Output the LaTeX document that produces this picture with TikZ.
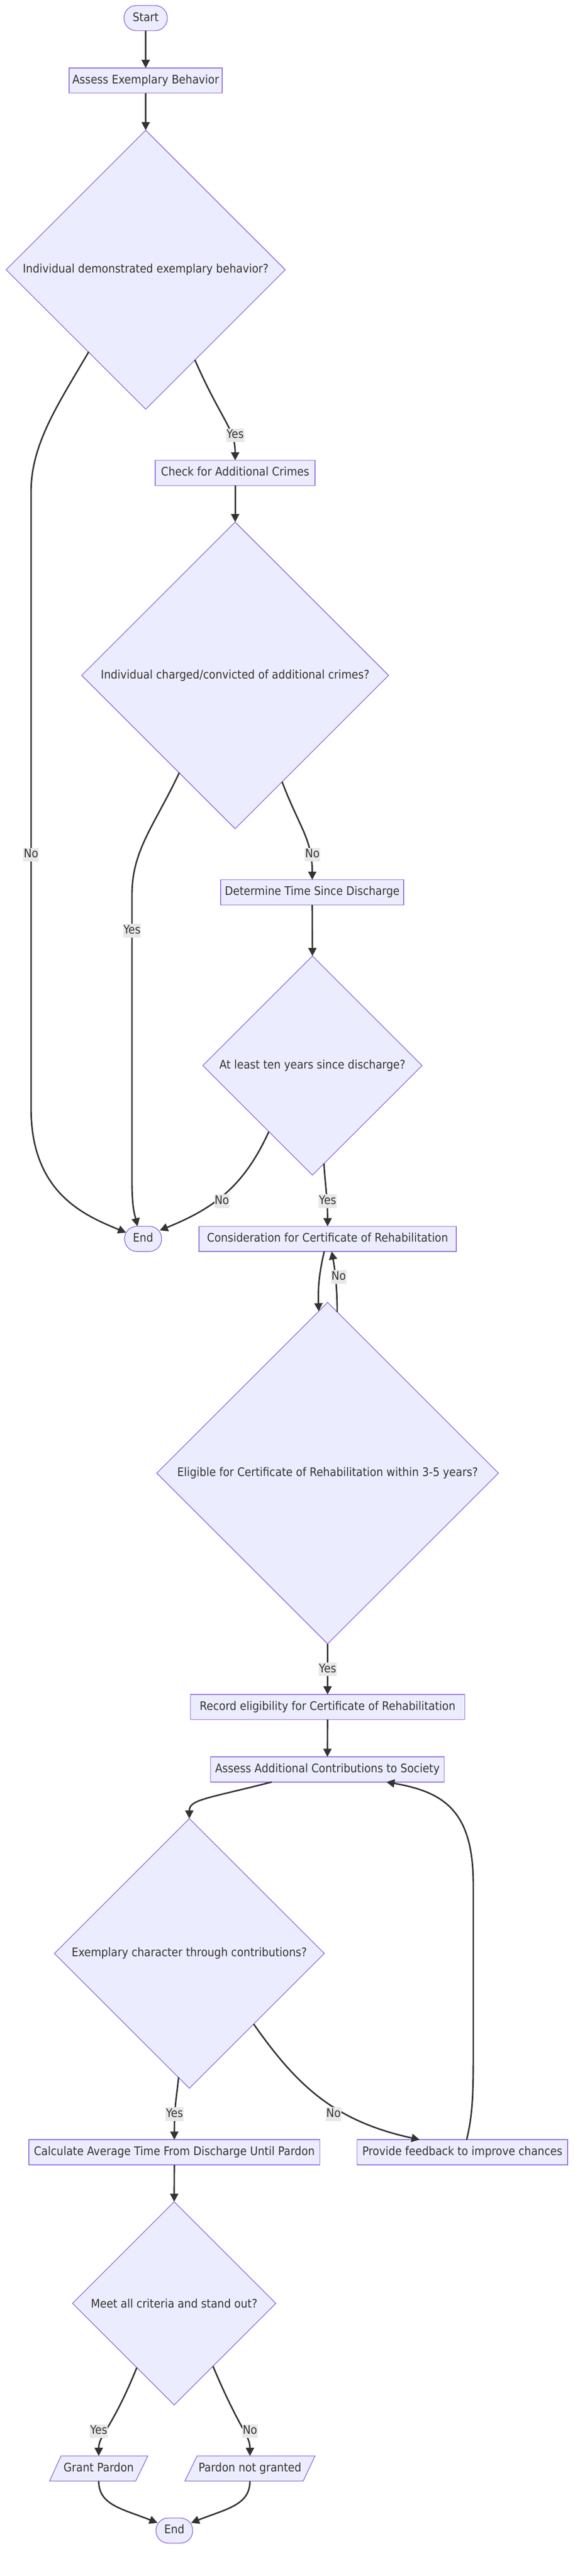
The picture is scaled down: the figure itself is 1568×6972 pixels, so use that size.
\documentclass[tikz,border=0pt]{standalone}
\usepackage{fontspec}
\setmainfont[FakeStretch=0.9]{DejaVu Sans}
\usetikzlibrary{shapes.geometric,arrows.meta}
\definecolor{nodefill}{HTML}{ECECFF}
\definecolor{nodeline}{HTML}{9370DB}
\definecolor{ink}{HTML}{333333}
\definecolor{lblbg}{HTML}{E8E8E8}
\begin{document}
\begin{tikzpicture}[x=0.5pt,y=-0.5pt,
  every node/.style={font=\fontsize{16pt}{19pt}\selectfont, text=ink},
  box/.style={draw=nodeline, fill=nodefill, line width=1pt, rectangle, minimum height=34pt, inner sep=0pt, outer sep=0pt, text height=11.7pt, text depth=3.3pt},
  stad/.style={box, rounded corners=16.5pt},
  dia/.style={draw=nodeline, fill=nodefill, line width=1pt, diamond, aspect=1, inner sep=0pt, outer sep=0pt},
  para/.style={rectangle, minimum height=34pt, inner sep=0pt, outer sep=0pt, text height=11.7pt, text depth=3.3pt},
  parashape/.style={draw=nodeline, fill=nodefill, line width=1pt},
  conn/.style={draw=ink, line width=2pt, -{Triangle[length=11pt,width=11pt]}},
  lbl/.style={fill=lblbg, inner xsep=0.5pt, inner ysep=0pt, minimum height=18.5pt, text height=11.7pt, text depth=3.3pt}
]
\useasboundingbox (0,0) rectangle (1568,6972);
\fill[white] (0,0) rectangle (1568,6972);

% nodes
\node[stad, minimum width=58.5pt] (start) at (394,49) {Start};
\node[box, minimum width=207pt] (assess) at (394,218) {Assess Exemplary Behavior};
\node[dia, minimum width=377.5pt, minimum height=377.5pt] (d1) at (394,730) {Individual demonstrated exemplary behavior?};
\node[box, minimum width=216pt] (check) at (636,1280) {Check for Additional Crimes};
\node[dia, minimum width=415pt, minimum height=415pt] (d2) at (636,1828) {Individual charged/convicted of additional crimes?};
\node[box, minimum width=247.5pt] (determine) at (844.5,2415) {Determine Time Since Discharge};
\node[dia, minimum width=296.5pt, minimum height=296.5pt] (d3) at (845,2884) {At least ten years since discharge?};
\node[stad, minimum width=50pt] (end1) at (387,3353) {End};
\node[box, minimum width=348pt] (consider) at (886,3353) {Consideration for Certificate of Rehabilitation};
\node[dia, minimum width=462pt, minimum height=462pt] (d4) at (886,3987) {Eligible for Certificate of Rehabilitation within 3-5 years?};
\node[box, minimum width=371pt] (record) at (886,4620) {Record eligibility for Certificate of Rehabilitation};
\node[box, minimum width=315.5pt] (assessadd) at (885.5,4789) {Assess Additional Contributions to Society};
\node[dia, minimum width=365pt, minimum height=365pt] (d5) at (512,5287) {Exemplary character through contributions?};
\node[box, minimum width=393.5pt] (calc) at (471.5,5825) {Calculate Average Time From Discharge Until Pardon};
\node[box, minimum width=284.5pt] (provide) at (1250.5,5825) {Provide feedback to improve chances};
\node[dia, minimum width=275pt, minimum height=275pt] (d6) at (471,6234) {Meet all criteria and stand out?};

\coordinate (grantc) at (267,6681);
\coordinate (notgrc) at (676,6681);
\draw[parashape] ([shift={(-133,34)}]grantc) -- ([shift={(100,34)}]grantc) -- ([shift={(133,-34)}]grantc) -- ([shift={(-102,-34)}]grantc) -- cycle;
\draw[parashape] ([shift={(-176,34)}]notgrc) -- ([shift={(144,34)}]notgrc) -- ([shift={(176,-34)}]notgrc) -- ([shift={(-143,-34)}]notgrc) -- cycle;
\node[para, minimum width=133pt] (grant) at (grantc) {Grant Pardon};
\node[para, minimum width=176pt] (notgr) at (notgrc) {Pardon not granted};
\node[stad, minimum width=49.5pt] (end2) at (471.5,6849) {End};

% connectors
\draw[conn] (start.south) -- (assess.north);
\draw[conn] (assess.south) -- (d1.north);
\draw[conn] ([shift={(-154,222)}]d1.center) .. controls (160,1090) and (84,1200) .. (84,1330) -- (84,3000) .. controls (84,3230) and (230,3290) .. ([shift={(-46,-17)}]end1.center);
\draw[conn] ([shift={(133,244)}]d1.center) .. controls (600,1140) and (636,1160) .. (check.north);
\draw[conn] (check.south) -- (d2.north);
\draw[conn] ([shift={(-151,263)}]d2.center) .. controls (420,2230) and (357,2300) .. (357,2420) -- (357,3200) .. controls (357,3270) and (365,3290) .. ([shift={(-15,-34)}]end1.center);
\draw[conn] ([shift={(127,288)}]d2.center) .. controls (810,2240) and (844.5,2270) .. (determine.north);
\draw[conn] (determine.south) -- (d3.north);
\draw[conn] ([shift={(-118,179)}]d3.center) .. controls (660,3210) and (580,3270) .. ([shift={(45,-23)}]end1.center);
\draw[conn] ([shift={(31,265)}]d3.center) .. controls (882,3230) and (886,3250) .. (consider.north);
\draw[conn] ([shift={(-9,34)}]consider.center) .. controls (862,3450) and (860,3490) .. ([shift={(-24,-438)}]d4.center);
\draw[conn] ([shift={(26,-436)}]d4.center) .. controls (912,3480) and (905,3430) .. ([shift={(11,34)}]consider.center);
\draw[conn] (d4.south) -- (record.north);
\draw[conn] (record.south) -- (assessadd.north);
\draw[conn] ([shift={(-150.5,34)}]assessadd.center) .. controls (560,4868) and (512,4870) .. (d5.north);
\draw[conn] ([shift={(-29,335)}]d5.center) .. controls (476,5690) and (471.5,5700) .. (calc.north);
\draw[conn] ([shift={(174,191)}]d5.center) .. controls (800,5640) and (900,5740) .. ([shift={(-115.5,-34)}]provide.center);
\draw[conn] ([shift={(11.5,-34)}]provide.center) .. controls (1280,5720) and (1280,5650) .. (1280,5550) -- (1280,5100) .. controls (1280,4900) and (1200,4850) .. ([shift={(159.5,34)}]assessadd.center);
\draw[conn] (calc.south) -- (d6.north);
\draw[conn] ([shift={(-101,174)}]d6.center) .. controls (300,6580) and (267,6590) .. (grant.north);
\draw[conn] ([shift={(105,170)}]d6.center) .. controls (650,6580) and (676,6590) .. (notgr.north);
\draw[conn] (grant.south) .. controls (267,6780) and (330,6790) .. ([shift={(-45.5,-21)}]end2.center);
\draw[conn] (notgr.south) .. controls (676,6780) and (613,6790) .. ([shift={(45.5,-21)}]end2.center);

% edge labels
\node[lbl] (l1) at (84,2313) {No};
\node[lbl] (l2) at (636,1178) {Yes};
\node[lbl] (l3) at (357,2519) {Yes};
\node[lbl] (l4) at (845,2313) {No};
\node[lbl] (l5) at (600,3251) {No};
\node[lbl] (l6) at (886,3251) {Yes};
\node[lbl] (l7) at (916,3456) {No};
\node[lbl] (l8) at (886,4518) {Yes};
\node[lbl] (l9) at (472,5722) {Yes};
\node[lbl] (l10) at (902,5722) {No};
\node[lbl] (l11) at (267,6580) {Yes};
\node[lbl] (l12) at (676,6580) {No};
\end{tikzpicture}
\end{document}
